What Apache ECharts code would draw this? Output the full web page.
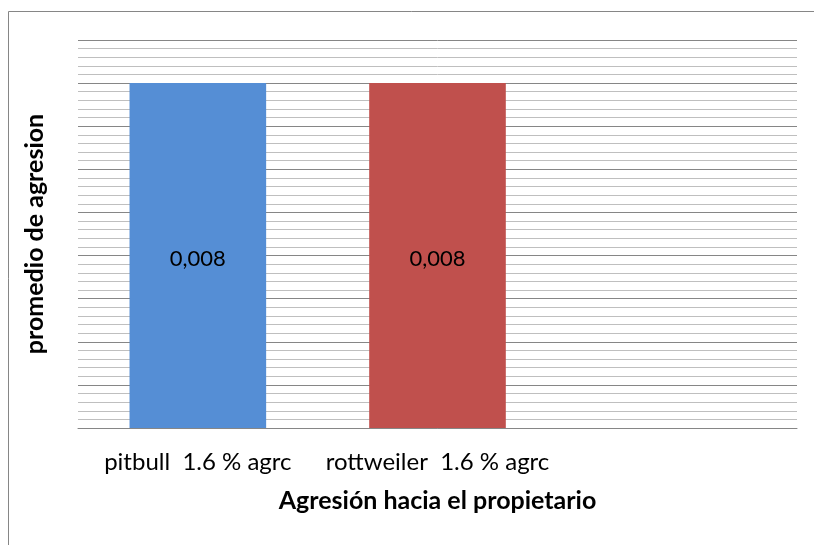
<!DOCTYPE html>
<html>
<head>
<meta charset="utf-8">
<script src="https://cdn.jsdelivr.net/npm/echarts@6/dist/echarts.min.js"></script>
<style>
  html, body { margin: 0; padding: 0; background: #fff; }
  #chart { width: 814px; height: 545px; }
</style>
</head>
<body>
<div id="chart"></div>
<script>
// categorias y valores
var categorias = ['pitbull  1.6 % agrc', 'rottweiler  1.6 % agrc', ''];
var valores = [0.008, 0.008, null];
var colores = ['#558ED5', '#C0504D'];

var myChart = echarts.init(document.getElementById('chart'));

var option = {
    animation: false,
    textStyle: { fontFamily: 'Lato' },
    grid: { left: 78, right: 17, top: 40, bottom: 117 },
    graphic: [{
        type: 'rect',
        shape: { x: 8.5, y: 11.5, width: 900, height: 700 },
        style: { fill: 'none', stroke: '#868686', lineWidth: 1 }
    }],
    xAxis: {
        type: 'category',
        data: categorias,
        name: 'Agresión hacia el propietario',
        nameLocation: 'middle',
        nameGap: 60,
        nameTextStyle: { fontSize: 25, fontWeight: 'bold', color: '#000', fontFamily: 'Lato' },
        axisLine: { lineStyle: { color: '#868686', width: 1 } },
        axisTick: { show: false },
        axisLabel: { interval: 0, hideOverlap: false, fontSize: 24, color: '#000', margin: 22, fontFamily: 'Lato' }
    },
    yAxis: {
        type: 'value',
        min: 0,
        max: 0.009,
        interval: 0.001,
        name: 'promedio de agresion',
        nameLocation: 'middle',
        nameGap: 31,
        nameRotate: 90,
        nameTextStyle: { fontSize: 25, fontWeight: 'bold', color: '#000', fontFamily: 'Lato' },
        axisLine: { show: false },
        axisTick: { show: false },
        axisLabel: { show: false },
        splitLine: { lineStyle: { color: '#868686', width: 1 } },
        minorTick: { show: false, splitNumber: 5 },
        minorSplitLine: { show: true, lineStyle: { color: '#BFBFBF', width: 1 } }
    },
    series: [{
        type: 'bar',
        data: valores.map(function (v, i) {
            return { value: v, itemStyle: { color: colores[i % colores.length] } };
        }),
        barWidth: '57%',
        label: {
            show: true,
            position: 'inside',
            offset: [0, 3],
            fontSize: 22,
            color: '#000',
            fontFamily: 'Lato',
            formatter: function (p) { return String(p.value).replace('.', ','); }
        }
    }]
};
myChart.setOption(option);
</script>
</body>
</html>
